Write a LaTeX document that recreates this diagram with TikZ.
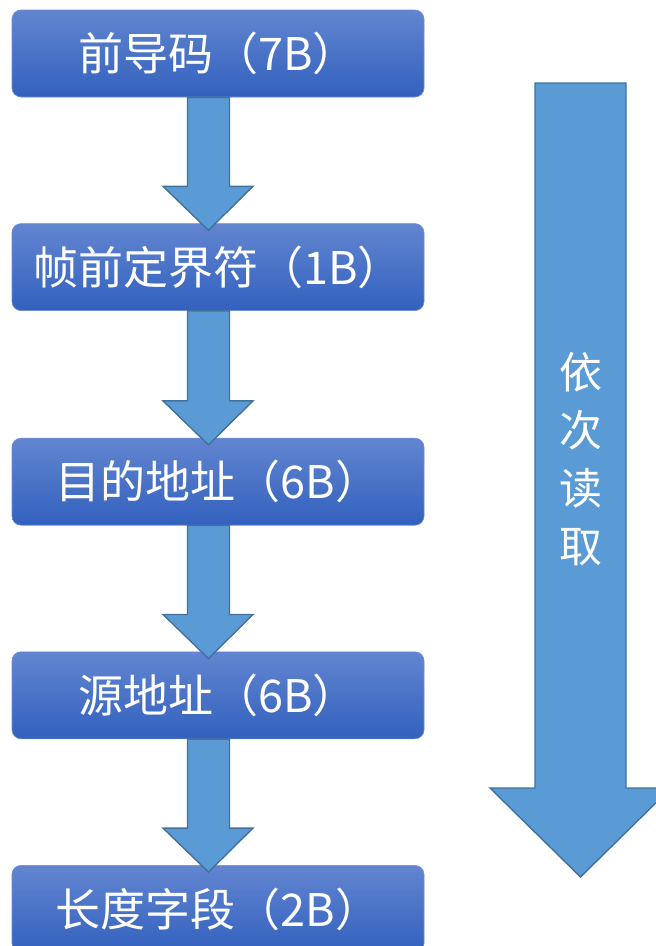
\documentclass[tikz,border=0pt]{standalone}
\usepackage{fontspec}
\setmainfont{Noto Sans CJK SC}
\usetikzlibrary{positioning,calc}

\definecolor{boxtop}{RGB}{98,133,208}
\definecolor{boxbottom}{RGB}{50,97,190}
\definecolor{boxline}{RGB}{110,140,205}
\definecolor{arrowfill}{RGB}{91,155,213}
\definecolor{arrowline}{RGB}{65,113,156}

\tikzset{
  field/.style={rectangle, rounded corners=9pt, minimum width=412pt, minimum height=87pt,
    top color=boxtop, bottom color=boxbottom, draw=boxline, line width=0.6pt,
    text=white, font=\fontsize{45}{52}\selectfont, inner sep=0pt},
  blockarrow/.style={fill=arrowfill, draw=arrowline, line width=1.4pt, line join=miter},
}

% block arrow between two fields
\newcommand{\flowarrow}[2]{%
  \draw[blockarrow] ($(#1.south)+(-30.5,0)$) -- ($(#2.north)+(-30.5,-37)$)
    -- ($(#2.north)+(-55,-37)$) -- ($(#2.north)+(-9.5,7)$)
    -- ($(#2.north)+(35,-37)$) -- ($(#2.north)+(11.5,-37)$)
    -- ($(#1.south)+(11.5,0)$) -- cycle;}

\begin{document}
\begin{tikzpicture}[x=1pt,y=-1pt]
  \useasboundingbox (0,0) rectangle (656,946);
  \clip (0,0) rectangle (656,946);

  % fields of the frame
  \node[field] (preamble) at (218,53.5) {前导码（7B）};
  \node[field, below=126pt of preamble] (sfd) {帧前定界符（1B）};
  \node[field, below=127pt of sfd] (dst) {目的地址（6B）};
  \node[field, below=126pt of dst] (src) {源地址（6B）};
  \node[field, below=126pt of src] (len) {长度字段（2B）};

  \flowarrow{preamble}{sfd}
  \flowarrow{sfd}{dst}
  \flowarrow{dst}{src}
  \flowarrow{src}{len}

  % reading order
  \coordinate (readtop) at (580.5,83);
  \coordinate (readtip) at (580.5,877);
  \draw[blockarrow] ($(readtop)+(-45.5,0)$) -- ($(readtip)+(-45.5,-89)$)
    -- ($(readtip)+(-90.5,-89)$) -- (readtip) -- ($(readtip)+(90.5,-89)$)
    -- ($(readtip)+(45.5,-89)$) -- ($(readtop)+(45.5,0)$) -- cycle;
  \node[text=white, font=\fontsize{43}{58}\selectfont, align=center] (readlabel)
    at (580.5,459) {依\\次\\读\\取};
\end{tikzpicture}
\end{document}
